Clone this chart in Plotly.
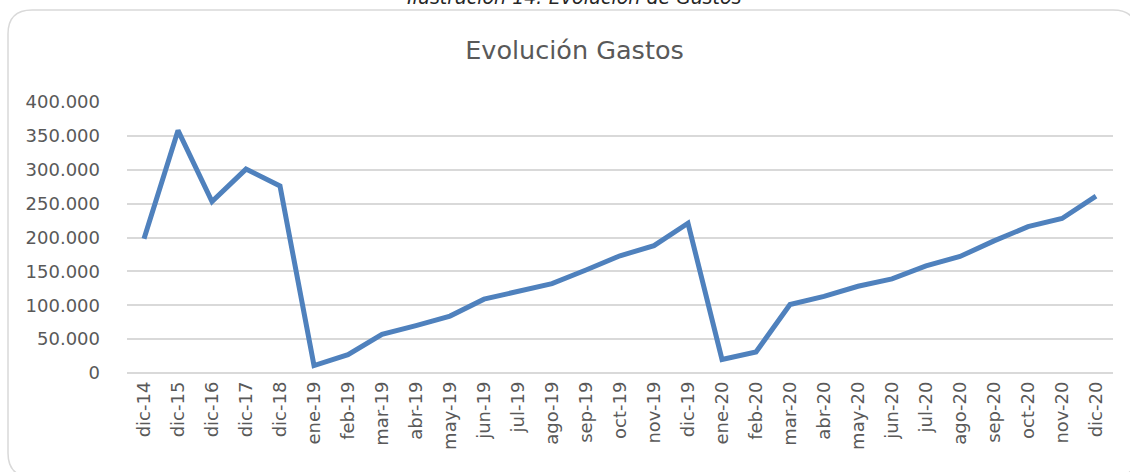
import plotly.graph_objects as go

categories = ["dic-14", "dic-15", "dic-16", "dic-17", "dic-18",
              "ene-19", "feb-19", "mar-19", "abr-19", "may-19", "jun-19", "jul-19",
              "ago-19", "sep-19", "oct-19", "nov-19", "dic-19",
              "ene-20", "feb-20", "mar-20", "abr-20", "may-20", "jun-20", "jul-20",
              "ago-20", "sep-20", "oct-20", "nov-20", "dic-20"]
gastos = [198000, 358000, 253000, 301000, 276000,
          11000, 27000, 57000, 70000, 84000, 109000, 120000,
          132000, 152000, 173000, 188000, 221000,
          20000, 31000, 101000, 113000, 128000, 139000, 158000,
          172000, 195000, 216000, 228000, 261000]
y_ticks = [0, 50000, 100000, 150000, 200000, 250000, 300000, 350000, 400000]
y_tick_labels = ["0", "50.000", "100.000", "150.000", "200.000", "250.000",
                 "300.000", "350.000", "400.000"]

W, H = 1130, 472
L, R, T, B = 127, 17, 102, 99
pw, ph = W - L - R, H - T - B
FONT = "DejaVu Sans"

def px(x):
    return (x - L) / pw

def py(y):
    return (H - B - y) / ph

fig = go.Figure()
fig.add_trace(go.Scatter(x=categories, y=gastos, mode="lines",
                         line=dict(color="#4F81BD", width=5), hoverinfo="skip"))

# rounded chart border
x0, x1, y0, y1, r = 8, 1137, 10, 477, 24
path = (f"M {px(x0)},{py(y0 + r)} "
        f"Q {px(x0)},{py(y0)} {px(x0 + r)},{py(y0)} "
        f"L {px(x1 - r)},{py(y0)} "
        f"Q {px(x1)},{py(y0)} {px(x1)},{py(y0 + r)} "
        f"L {px(x1)},{py(y1 - r)} "
        f"Q {px(x1)},{py(y1)} {px(x1 - r)},{py(y1)} "
        f"L {px(x0 + r)},{py(y1)} "
        f"Q {px(x0)},{py(y1)} {px(x0)},{py(y1 - r)} Z")
fig.add_shape(type="path", path=path, xref="paper", yref="paper",
              line=dict(color="#D9D9D9", width=1.5), layer="below")

fig.add_annotation(text="Ilustración 14: Evolución de Gastos", xref="paper", yref="paper",
                   x=px(574.5), y=py(10), xanchor="center", yanchor="bottom", showarrow=False,
                   font=dict(family=FONT, size=19, color="#262626", style="italic"))

fig.update_layout(
    width=W, height=H,
    margin=dict(l=L, r=R, t=T, b=B),
    paper_bgcolor="white", plot_bgcolor="white",
    showlegend=False,
    title=dict(text="Evolución Gastos", xref="container", x=574.5 / W, xanchor="center",
               y=1 - 50 / H, yanchor="middle",
               font=dict(family=FONT, size=25.5, color="#595959")),
    font=dict(family=FONT, color="#595959"),
    xaxis=dict(type="category", range=[-0.5, len(categories) - 0.5],
               tickangle=-90, tickfont=dict(size=18, color="#595959"),
               showgrid=False, showline=False, zeroline=False, ticks="",
               ticklabelstandoff=4),
    yaxis=dict(range=[0, 400000], tickvals=y_ticks, ticktext=y_tick_labels,
               tickfont=dict(size=18, color="#595959"),
               showgrid=True, gridcolor="#D9D9D9", gridwidth=1.5,
               zeroline=True, zerolinecolor="#D9D9D9", zerolinewidth=1.5,
               showline=False, ticks="", ticklabelstandoff=26),
)

fig.write_html("out.html", config={"displayModeBar": False},
               post_script="document.body.style.margin='0';document.body.style.overflow='hidden';")
